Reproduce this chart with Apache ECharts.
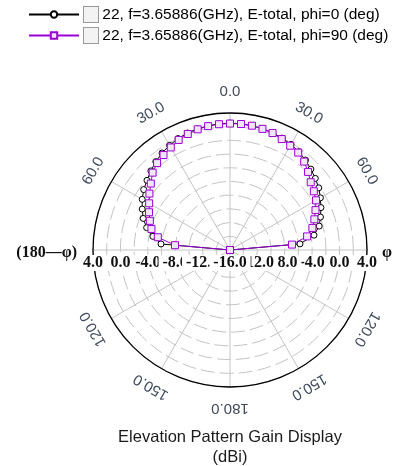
<!DOCTYPE html>
<html>
<head>
	<meta charset="utf-8" />
	<title>Elevation Pattern Gain Display</title>
	<script src="https://cdn.jsdelivr.net/npm/echarts@6/dist/echarts.min.js"></script>
	<style>
		html, body { margin: 0; padding: 0; background: #fff; }
	</style>
</head>
<body>
	<!-- chart container -->
	<div id="main" style="width: 400px;height: 466px;"></div>
	<script type="text/javascript">

		// theta (deg), elevation plane
		var theta = [-90, -85, -80, -75, -70, -65, -60, -55, -50, -45, -40, -35, -30, -25, -20, -15, -10, -5,
			0, 5, 10, 15, 20, 25, 30, 35, 40, 45, 50, 55, 60, 65, 70, 75, 80, 85, 90];

		// gain (dBi), phi = 0
		var gainPhi0 = [-16, -5.89, -4.57, -3.40, -2.52, -1.86, -1.20, -0.62, -0.18, 0.33, 0.85, 1.29, 1.65, 1.95, 2.17, 2.31, 2.41, 2.49,
			2.53, 2.50, 2.43, 2.34, 2.21, 2.02, 1.80, 1.51, 1.14, 0.70, 0.26, -0.18, -0.76, -1.35, -1.94, -2.52, -3.55, -5.74, -16];

		// gain (dBi), phi = 90
		var gainPhi90 = [-16, -7.94, -5.30, -4.13, -3.55, -2.96, -2.37, -1.64, -0.91, -0.03, 0.56, 0.92, 1.29, 1.73, 2.02, 2.24, 2.36, 2.43,
			2.46, 2.46, 2.43, 2.31, 2.17, 1.87, 1.58, 1.36, 0.85, 0.12, -0.62, -1.06, -1.50, -2.23, -2.89, -3.55, -4.57, -6.92, -16];

		var seriesNames = ['22, f=3.65886(GHz), E-total, phi=0 (deg)', '22, f=3.65886(GHz), E-total, phi=90 (deg)'];

		// angle tick labels
		var angleTicks = [0, 30, 60, 120, 150, 180, -150, -120, -60, -30];
		var angleTickLabels = ['0.0', '30.0', '60.0', '120.0', '150.0', '180.0', '150.0', '120.0', '60.0', '30.0'];
		var sideAngles = [-90, 90];
		var sideLabels = ['(180\u2014\u03c6)', '\u03c6'];

		// radius tick labels (dB), drawn outer first, center last
		var radiusTicks = [4, 0, -4, -8, -12];
		var radiusCenter = -16;
		var radiusMin = -16, radiusMax = 4;

		var BLACK = '#000000';
		var PURPLE = '#9c00d4';

		function pairs(r) {
			return theta.map(function (t, i) { return [r[i], t]; });
		}

		// radius label data: left side, right side, then center on top
		var radiusLabelData = [];
		radiusTicks.forEach(function (v) { radiusLabelData.push([v, -90]); });
		radiusTicks.forEach(function (v) { radiusLabelData.push([v, 90]); });
		radiusLabelData.push([radiusCenter, 0]);

		var myChart = echarts.init(document.getElementById('main'), null, { renderer: 'canvas' });

		var option = {
			animation: false,
			backgroundColor: '#fff',
			title: {
				text: 'Elevation Pattern Gain Display\n(dBi)',
				left: 225,
				textAlign: 'center',
				bottom: -6,
				textStyle: {
					fontFamily: 'Liberation Sans',
					fontSize: 16.5,
					fontWeight: 'normal',
					color: '#1a1a1a',
					lineHeight: 20
				}
			},
			legend: {
				orient: 'vertical',
				left: 28,
				top: 6,
				padding: 0,
				itemWidth: 50,
				itemHeight: 8,
				itemGap: 4,
				data: seriesNames,
				formatter: function (name) {
					return '{box|} ' + name;
				},
				textStyle: {
					fontFamily: 'Liberation Sans',
					fontSize: 15.5,
					color: '#000',
					rich: {
						box: {
							width: 14,
							height: 15,
							borderColor: '#9a9a9a',
							borderWidth: 1,
							backgroundColor: '#f3f3f3'
						}
					}
				}
			},
			polar: {
				center: [230, 250],
				radius: 137
			},
			angleAxis: {
				type: 'value',
				min: -180,
				max: 180,
				interval: 30,
				startAngle: 270,
				clockwise: true,
				axisLine: { show: true, lineStyle: { color: '#000', width: 1.3 } },
				axisTick: { show: false },
				axisLabel: { show: false },
				splitLine: { show: true, lineStyle: { color: '#c4c4c4', width: 1 } }
			},
			radiusAxis: {
				type: 'value',
				min: radiusMin,
				max: radiusMax,
				interval: 2,
				axisLine: { show: false },
				axisTick: { show: false },
				axisLabel: { show: false },
				splitLine: { show: true, lineStyle: { color: '#c4c4c4', width: 1, type: [14, 5] } }
			},
			series: [
				{
					name: seriesNames[0],
					type: 'line',
					coordinateSystem: 'polar',
					data: pairs(gainPhi0),
					symbol: 'circle',
					symbolSize: 6,
					lineStyle: { color: BLACK, width: 1 },
					itemStyle: { color: '#fff', borderColor: BLACK, borderWidth: 1 },
					z: 3
				},
				{
					name: seriesNames[1],
					type: 'line',
					coordinateSystem: 'polar',
					data: pairs(gainPhi90),
					symbol: 'rect',
					symbolSize: 7,
					lineStyle: { color: PURPLE, width: 1 },
					itemStyle: { color: '#f3e6fb', borderColor: PURPLE, borderWidth: 1 },
					z: 4
				},
				{
					// angle labels outside the circle
					type: 'custom',
					coordinateSystem: 'polar',
					clip: false,
					silent: true,
					z: 5,
					data: angleTicks.map(function (a, i) { return [radiusMax, a, i]; }),
					renderItem: function (params, api) {
						var c = api.coord([radiusMin, 0]);
						var p = api.coord([api.value(0), api.value(1)]);
						var dx = p[0] - c[0], dy = p[1] - c[1];
						var len = Math.sqrt(dx * dx + dy * dy);
						var off = 21;
						var a = api.value(1);
						return {
							type: 'text',
							x: p[0] + dx / len * off,
							y: p[1] + dy / len * off,
							rotation: -a * Math.PI / 180,
							style: {
								text: angleTickLabels[api.value(2)],
								align: 'center',
								verticalAlign: 'middle',
								font: '15px "Liberation Sans"',
								fill: '#3f4a5c'
							}
						};
					}
				},
				{
					// phi side labels
					type: 'custom',
					coordinateSystem: 'polar',
					clip: false,
					silent: true,
					z: 5,
					data: sideAngles.map(function (a, i) { return [radiusMax, a, i]; }),
					renderItem: function (params, api) {
						var p = api.coord([api.value(0), api.value(1)]);
						var right = api.value(1) > 0;
						return {
							type: 'text',
							x: p[0] + (right ? 15 : -16),
							y: p[1] + 3,
							style: {
								text: sideLabels[api.value(2)],
								align: right ? 'left' : 'right',
								verticalAlign: 'middle',
								font: 'bold 16px "Liberation Serif"',
								fill: '#111'
							}
						};
					}
				},
				{
					// radius tick labels along the horizontal line
					type: 'custom',
					coordinateSystem: 'polar',
					clip: false,
					silent: true,
					z: 6,
					data: radiusLabelData,
					renderItem: function (params, api) {
						var v = api.value(0);
						var p = api.coord([v, api.value(1)]);
						return {
							type: 'text',
							x: p[0],
							y: p[1] + 5,
							style: {
								text: v.toFixed(1),
								align: 'center',
								verticalAlign: 'top',
								font: 'bold 16px "Liberation Serif"',
								fill: '#111',
								backgroundColor: '#fff',
								padding: [0, 4]
							}
						};
					}
				}
			]
		};

		myChart.setOption(option);

	</script>
</body>
</html>
